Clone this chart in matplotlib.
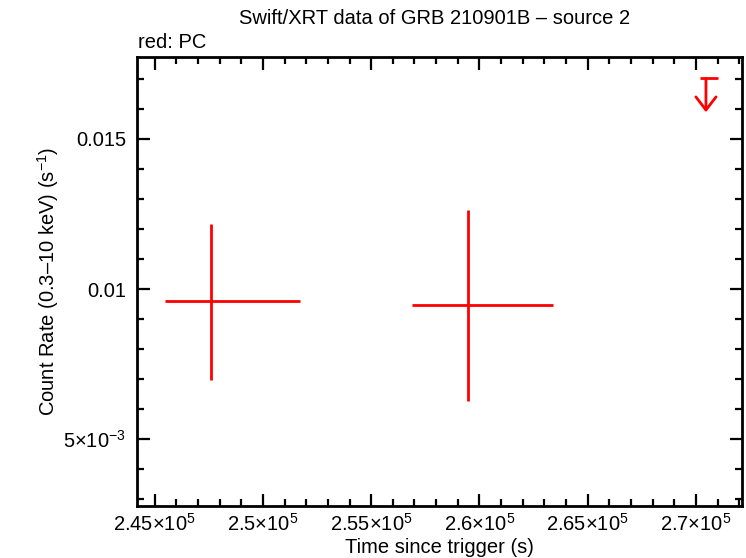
import matplotlib
matplotlib.use("Agg")
import matplotlib.pyplot as plt
from matplotlib.ticker import MultipleLocator, FixedLocator

plt.rcParams.update({
    "font.family": ["Liberation Sans", "DejaVu Sans"],
    "mathtext.fontset": "custom",
    "mathtext.rm": "Liberation Sans",
    "mathtext.it": "Liberation Sans",
    "font.size": 14.5,
})

# PC mode detections
pc_t = [247580, 259450]
pc_tlo = [2093, 2554]
pc_thi = [4143, 3959]
pc_rate = [0.00961, 0.009467]
pc_rlo = [0.00263, 0.003177]
pc_rhi = [0.002564, 0.003173]

# PC mode upper limit
ul_t = [270462]
ul_tlo = [263]
ul_thi = [536]
ul_rate = [0.01702]

xticks = [245000, 250000, 255000, 260000, 265000, 270000]
xticklabels = [r"$2.45{\times}10^{5}$", r"$2.5{\times}10^{5}$", r"$2.55{\times}10^{5}$",
               r"$2.6{\times}10^{5}$", r"$2.65{\times}10^{5}$", r"$2.7{\times}10^{5}$"]
yticks = [0.005, 0.01, 0.015]
yticklabels = [r"$5{\times}10^{-3}$", "0.01", "0.015"]

fig = plt.figure(figsize=(7.46, 5.58), dpi=100)
ax = fig.add_axes([0.1843, 0.0932, 0.8103, 0.8041])

ax.errorbar(pc_t, pc_rate, xerr=[pc_tlo, pc_thi], yerr=[pc_rlo, pc_rhi],
            fmt="none", ecolor="red", elinewidth=2.0, capsize=0)
ax.errorbar(ul_t, ul_rate, xerr=[ul_tlo, ul_thi], fmt="none", ecolor="red",
            elinewidth=2.0, capsize=0)
arrow_len = 0.00113
for t, r in zip(ul_t, ul_rate):
    ax.annotate("", xy=(t, r - arrow_len), xytext=(t, r),
                arrowprops=dict(arrowstyle="->,head_length=0.65,head_width=0.5",
                                color="red", lw=2.0, shrinkA=0, shrinkB=0))

ax.set_xlim(244208, 272125)
ax.set_ylim(0.00278, 0.01772)
ax.xaxis.set_major_locator(FixedLocator(xticks))
ax.set_xticklabels(xticklabels)
ax.xaxis.set_minor_locator(MultipleLocator(1000))
ax.yaxis.set_major_locator(FixedLocator(yticks))
ax.set_yticklabels(yticklabels)
ax.yaxis.set_minor_locator(MultipleLocator(0.001))

ax.tick_params(which="both", direction="in", top=True, right=True, width=1.6)
ax.tick_params(which="major", length=9, pad=5)
ax.tick_params(which="minor", length=5)
ax.tick_params(axis="y", which="major", pad=8)
for s in ax.spines.values():
    s.set_linewidth(2.0)

ax.set_xlabel("Time since trigger (s)", labelpad=2)
ax.set_ylabel("Count Rate (0.3\u201310 keV) (s$^{-1}$)", labelpad=2)

fig.text(435 / 746, 1 - 19 / 558, "Swift/XRT data of GRB 210901B \u2013 source 2",
         ha="center", va="center")
fig.text(138 / 746, 1 - 43 / 558, "red: PC", ha="left", va="center")

fig.savefig("out.png", dpi=100)
